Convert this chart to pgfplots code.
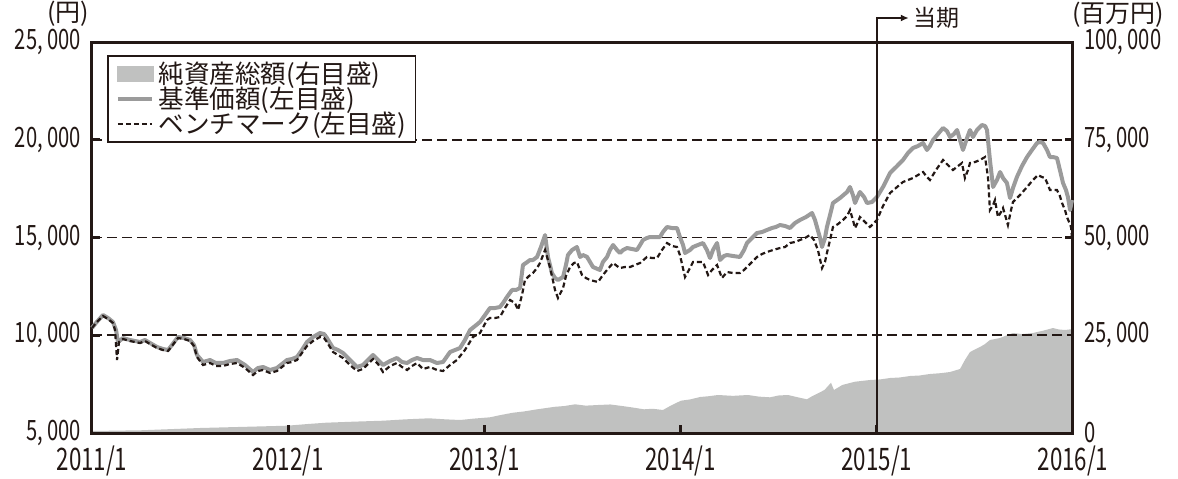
\documentclass[border=0pt]{standalone}
\usepackage{pgfplots}
\pgfplotsset{compat=1.18}
\usepackage{pgfplotstable}
\usepackage{fontspec}
\usetikzlibrary{arrows.meta}
\setmainfont{Noto Sans CJK JP}
\newfontfamily\numfont[FakeStretch=0.72]{Noto Sans CJK JP}

\definecolor{ink}{RGB}{35,24,21}
\definecolor{areagray}{RGB}{192,193,192}
\definecolor{navgray}{RGB}{155,155,155}

% months since 2011/1, yen
\pgfplotstableread{
m v
0 10371
0.24 10627
0.67 11036
0.98 10882
1.28 10678
1.47 10268
1.59 9655
1.90 9859
2.32 9757
2.94 9655
3.24 9757
3.55 9604
3.98 9399
4.34 9297
4.65 9245
4.89 9501
5.26 9910
5.63 9859
6.00 9757
6.24 9501
6.42 8990
6.79 8632
7.22 8734
7.58 8581
8.01 8581
8.44 8683
8.87 8734
9.36 8478
9.85 8120
10.15 8325
10.46 8376
10.89 8223
11.31 8325
11.62 8530
11.93 8734
12.23 8785
12.54 8887
12.84 9245
13.15 9655
13.52 9910
13.94 10115
14.19 10064
14.37 9859
14.74 9348
15.05 9245
15.35 9092
15.78 8734
16.21 8376
16.57 8478
16.88 8734
17.19 8990
17.49 8734
17.80 8478
18.23 8683
18.65 8836
18.96 8632
19.27 8581
19.57 8734
19.88 8836
20.24 8734
20.67 8734
21.10 8581
21.47 8632
21.90 9143
22.20 9245
22.51 9348
22.81 9757
23.12 10268
23.43 10473
23.73 10678
24.04 11036
24.34 11394
24.65 11394
24.95 11445
25.14 11650
25.38 11957
25.69 12315
25.93 12315
26.18 12417
26.36 13594
26.54 13696
26.79 13849
26.97 13849
27.22 14003
27.46 14514
27.71 15127
27.89 14003
28.13 13184
28.32 12929
28.50 12826
28.81 12980
28.99 13594
29.11 14105
29.36 14360
29.66 14514
29.85 14003
30.03 14105
30.28 14003
30.46 13747
30.64 13491
31.07 13338
31.25 13747
31.50 14003
31.68 14360
31.87 14616
32.11 14360
32.29 14207
32.48 14360
32.72 14463
33.03 14411
33.33 14360
33.52 14616
33.70 14872
33.94 14974
34.13 15025
34.43 15025
34.74 15025
34.92 15281
35.17 15537
35.47 15486
35.78 15486
35.96 15025
36.15 14616
36.27 14207
36.57 14360
36.76 14514
37.06 14616
37.37 14718
37.61 14360
37.80 13952
37.98 14360
38.23 14718
38.41 13849
38.65 14054
38.84 14105
39.20 14054
39.63 14003
39.88 14360
40.06 14718
40.37 14974
40.67 15230
40.98 15281
41.28 15383
41.59 15486
41.83 15537
42.08 15639
42.39 15588
42.69 15486
43.00 15741
43.30 15895
43.67 16048
44.04 16253
44.22 15895
44.34 15537
44.53 14974
44.65 14514
44.83 14974
44.95 15537
45.14 16150
45.32 16764
45.75 17020
46.18 17327
46.36 17583
46.54 17173
46.67 16764
46.85 17122
46.97 17327
47.22 17071
47.40 16764
47.71 16816
48.01 17071
48.38 17583
48.81 18299
49.24 18657
49.60 18964
49.91 19322
50.21 19578
50.52 19680
50.83 19834
51.07 19476
51.25 19680
51.44 19987
51.74 20294
52.05 20601
52.29 20448
52.48 20141
52.72 20294
52.91 20499
53.09 19987
53.27 19476
53.52 20090
53.70 20499
53.88 20141
54.13 20499
54.43 20754
54.62 20703
54.74 20499
54.92 18964
55.11 17583
55.35 17941
55.54 18350
55.72 18043
55.96 17788
56.15 17020
56.33 17532
56.57 18094
56.88 18657
57.19 19117
57.49 19476
57.80 19834
57.98 19885
58.17 19834
58.41 19476
58.59 19117
58.78 19117
59.02 19066
59.20 18453
59.39 17788
59.57 17429
59.69 17071
59.82 16407
59.94 16918
}\navdata

\pgfplotstableread{
m v
0 10371
0.24 10627
0.67 10985
0.98 10831
1.28 10627
1.41 10268
1.53 8734
1.65 9655
1.90 9808
2.32 9706
2.94 9604
3.24 9706
3.55 9552
3.98 9348
4.34 9245
4.65 9194
4.89 9450
5.26 9859
5.63 9808
6.00 9706
6.24 9450
6.42 8887
6.79 8478
7.22 8581
7.58 8427
8.01 8427
8.44 8530
8.87 8581
9.36 8325
9.85 7966
10.15 8171
10.46 8223
10.89 8069
11.31 8171
11.62 8376
11.93 8581
12.23 8632
12.54 8734
12.84 9092
13.15 9450
13.52 9706
13.94 9910
14.19 9859
14.37 9655
14.74 9143
15.05 8990
15.35 8836
15.78 8478
16.21 8171
16.57 8274
16.88 8530
17.19 8785
17.49 8530
17.80 8120
18.23 8427
18.65 8581
18.96 8376
19.27 8223
19.57 8427
19.88 8581
20.24 8274
20.67 8376
21.10 8223
21.47 8171
21.90 8478
22.32 8734
22.81 9245
23.30 9910
23.73 10115
24.16 10780
24.34 10882
24.65 10882
24.95 10934
25.26 11394
25.57 11803
25.87 11650
26.06 11292
26.30 12059
26.48 12826
26.73 13031
26.97 13184
27.22 13440
27.40 13696
27.71 14360
28.01 13491
28.32 12315
28.50 11906
28.81 12417
28.99 13031
29.24 13491
29.48 13696
29.66 13747
29.85 13338
29.97 13082
30.21 12929
30.46 12826
30.70 12775
30.95 12724
31.25 13082
31.50 13338
31.87 13696
32.11 13542
32.29 13440
32.60 13491
32.91 13491
33.21 13594
33.52 13696
33.94 14003
34.25 13952
34.56 13952
34.86 14360
35.17 14718
35.47 14565
35.78 14514
35.96 14105
36.27 12980
36.51 13338
36.76 13747
37.06 13747
37.37 13747
37.68 13082
37.92 13338
38.23 13594
38.53 12929
38.84 13235
39.20 13184
39.63 13184
39.88 13338
40.06 13491
40.37 13747
40.67 14003
40.98 14156
41.28 14258
41.65 14360
42.08 14463
42.39 14514
42.69 14718
43.00 14770
43.30 14872
43.61 14974
43.91 15127
44.16 14872
44.40 14360
44.65 13440
44.83 13747
44.95 14207
45.14 14872
45.32 15537
45.63 15690
45.93 15895
46.18 16100
46.36 16407
46.54 15895
46.67 15486
46.85 15792
46.97 16048
47.28 15792
47.58 15537
47.83 15741
48.01 15895
48.38 16611
48.81 17276
49.24 17583
49.60 17839
49.91 17941
50.21 18043
50.52 18197
50.83 18350
51.07 18094
51.25 17941
51.62 18453
52.05 18964
52.35 18708
52.66 18453
52.97 18657
53.21 18811
53.39 18043
53.58 18453
53.70 18811
54.01 18862
54.31 18964
54.62 19117
54.80 18094
54.92 16407
55.11 16662
55.23 16918
55.41 16048
55.60 16304
55.72 16509
55.90 15997
56.02 15639
56.21 16407
56.33 16816
56.76 17173
57.19 17583
57.55 17941
57.86 18197
58.10 18094
58.29 18043
58.47 17685
58.59 17429
58.84 17429
59.02 17429
59.20 17122
59.33 16764
59.51 16407
59.63 16048
59.76 15792
59.88 15537
59.94 14974
}\benchdata

% net assets, million yen
\pgfplotstableread{
m r
0 512
3.0 700
6.61 1279
9.5 1600
11.93 1867
13.2 2300
14.31 2634
16.0 2900
17.80 3146
19.2 3500
20.61 3760
21.6 3500
22.51 3325
23.4 3700
24.34 4015
25.0 4600
25.75 5192
26.4 5500
27.16 6015
28.3 6700
28.9 6900
29.54 7340
30.2 7000
30.95 7161
31.7 7300
32.42 6905
33.1 6500
33.76 6061
34.3 6200
34.92 5882
35.4 7000
36.02 8261
36.6 8600
37.19 9207
37.7 9400
38.29 9719
39.2 9500
40.12 9719
40.8 9300
41.47 9130
42.0 9600
42.57 9719
43.2 9100
43.73 8619
44.00 9300
44.40 10153
44.8 11000
45.20 12864
45.38 10997
45.9 12300
46.67 13120
47.58 13555
48.2 13700
48.81 14066
49.4 14200
50.03 14578
50.6 14700
51.25 15089
51.9 15300
52.48 15601
53.09 16368
53.39 18670
53.70 20716
54.31 21995
54.6 22700
54.92 23785
55.54 24296
55.9 24900
56.33 25575
56.9 25300
57.55 25575
58.2 26200
58.78 26854
59.1 26500
59.51 26342
60.00 26598
}\areadata

\begin{document}
\begin{tikzpicture}
% right axis: net assets
\begin{axis}[
  width=490.5pt, height=195.5pt, scale only axis,
  xmin=0, xmax=60, ymin=0, ymax=100000,
  axis x line=none, axis y line*=right,
  y axis line style={ink, line width=1.5pt, -},
  ytick={0,25000,50000,75000,100000},
  yticklabels={0,{25, 000},{50, 000},{75, 000},{100, 000}},
  scaled y ticks=false,
  tick align=inside, major tick length=4pt,
  every tick/.style={ink, line width=1.5pt},
  yticklabel style={font=\fontsize{14}{14}\numfont, text=ink, xshift=2pt},
]
\addplot[fill=areagray, draw=none] table[x=m, y=r]{\areadata} \closedcycle;
\end{axis}

% left axis: NAV and benchmark
\begin{axis}[
  width=490.5pt, height=195.5pt, scale only axis,
  xmin=0, xmax=60, ymin=5000, ymax=25000, clip=false,
  scaled y ticks=false,
  axis line style={ink, line width=1.5pt},
  tick pos=left, tick align=inside, major tick length=4pt,
  every tick/.style={ink, line width=1.5pt},
  xtick={0,12,24,36,48,60},
  xticklabels={\raisebox{-3pt}{2011/1},2012/1,2013/1,2014/1,2015/1,\raisebox{-3pt}{2016/1}},
  ytick={5000,10000,15000,20000,25000},
  yticklabels={{5, 000},{10, 000},{15, 000},{20, 000},{25, 000}},
  ymajorgrids, grid style={ink, line width=0.9pt, dash pattern=on 5pt off 2.5pt},
  xticklabel style={font=\fontsize{15.5}{16}\numfont, text=ink, yshift=-3pt},
  yticklabel style={font=\fontsize{14}{14}\numfont, text=ink, xshift=-2pt},
  legend style={at={(0.0153,0.966)}, anchor=north west, draw=ink, line width=0.8pt,
    fill=white, font=\fontsize{12.8}{13.5}\selectfont, text=ink,
    nodes={inner sep=0.75pt}, inner xsep=4pt, inner ysep=2pt, row sep=-1.2pt},
  legend cell align=left,
]
\addlegendimage{legend image code/.code={\fill[areagray] (0pt,-3.7pt) rectangle (17.5pt,3.7pt);}}
\addlegendentry{\hspace{1.5pt}純資産総額(右目盛)}
\addplot[navgray, line width=2pt, line join=round] table[x=m, y=v]{\navdata};
\addlegendentry{\hspace{1.5pt}基準価額(左目盛)}
\addplot[ink, line width=1.1pt, dash pattern=on 2.5pt off 1.5pt] table[x=m, y=v]{\benchdata};
\addlegendentry{\hspace{1.5pt}ベンチマーク(左目盛)}

\draw[ink, line width=0.8pt, -{Latex[length=4pt, width=3.5pt]}]
  (axis cs:48,5000) -- ([yshift=12pt]axis cs:48,25000) -- ([xshift=16pt, yshift=12pt]axis cs:48,25000);
\node[anchor=west, inner sep=1pt, text=ink, font=\fontsize{11.5}{12}\selectfont]
  at ([xshift=17pt, yshift=12pt]axis cs:48,25000) {当期};
\node[text=ink, font=\fontsize{12.5}{12.5}\selectfont] at (-12pt,209.5pt) {(円)};
\node[text=ink, font=\fontsize{12.5}{12.5}\selectfont] at (513pt,209pt) {(百万円)};
\end{axis}
\pgfresetboundingbox
\path (-46pt,-22.5pt) rectangle (543pt,216.5pt);
\end{tikzpicture}
\end{document}
